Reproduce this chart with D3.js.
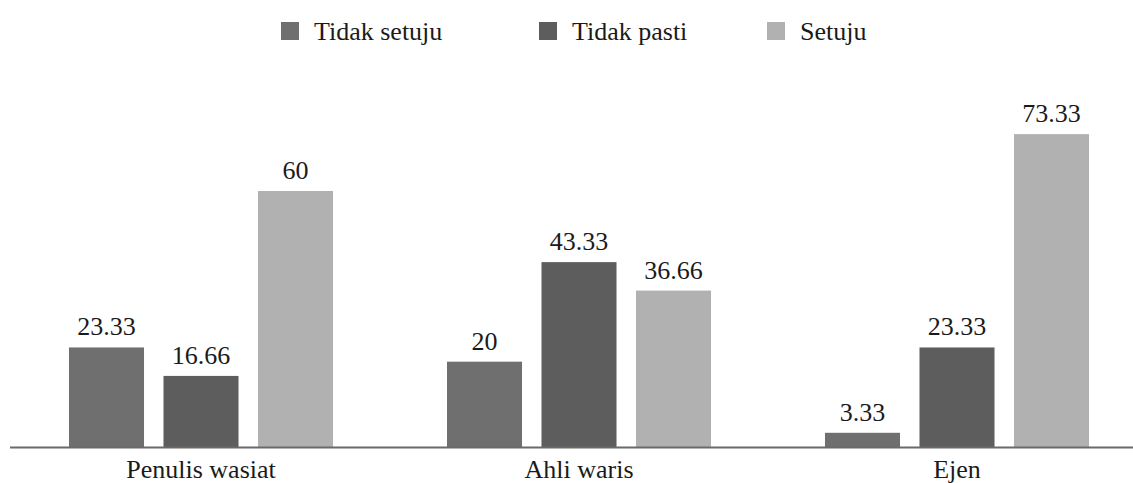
<!DOCTYPE html>
<html>
<head>
<meta charset="utf-8">
<script src="https://cdn.jsdelivr.net/npm/d3@7"></script>
<style>
  body { margin: 0; background: #fff; }
</style>
</head>
<body>
<div id="chart"></div>
<script>
var categories = ["Penulis wasiat", "Ahli waris", "Ejen"];
var seriesNames = ["Tidak setuju", "Tidak pasti", "Setuju"];
var tidakSetuju = [23.33, 20, 3.33];
var tidakPasti = [16.66, 43.33, 23.33];
var setuju = [60, 36.66, 73.33];
var colors = ["#6f6f6f", "#5d5d5d", "#b1b1b1"];

var seriesValues = [tidakSetuju, tidakPasti, setuju];

var W = 1133, H = 483;
var baseY = 447;
var serif = "Liberation Serif";

var svg = d3.select("#chart")
    .append("svg")
    .attr("width", W)
    .attr("height", H);

var x0 = d3.scaleBand()
    .domain(categories)
    .range([12, 1146])
    .padding(0);

var x1 = d3.scaleBand()
    .domain(seriesNames)
    .range([0, x0.bandwidth()])
    .paddingInner(0.206)
    .paddingOuter(0.603);

var y = d3.scaleLinear()
    .domain([0, 60])
    .range([baseY, 191]);

// rows of data for each category
var rows = categories.map(function (c, i) {
    return {
        cat: c,
        vals: seriesNames.map(function (s, j) {
            return {name: s, value: seriesValues[j][i], color: colors[j]};
        })
    };
});

var groups = svg.selectAll(".grp")
    .data(rows)
    .enter()
    .append("g")
    .attr("transform", function (d) { return "translate(" + x0(d.cat) + ",0)"; });

groups.selectAll("rect")
    .data(function (d) { return d.vals; })
    .enter()
    .append("rect")
    .attr("x", function (d) { return x1(d.name); })
    .attr("y", function (d) { return y(d.value); })
    .attr("width", x1.bandwidth())
    .attr("height", function (d) { return baseY - y(d.value); })
    .attr("fill", function (d) { return d.color; });

groups.selectAll(".lbl")
    .data(function (d) { return d.vals; })
    .enter()
    .append("text")
    .attr("class", "lbl")
    .attr("x", function (d) { return x1(d.name) + x1.bandwidth() / 2; })
    .attr("y", function (d) { return y(d.value) - 12; })
    .attr("text-anchor", "middle")
    .attr("font-size", 26)
    .attr("fill", "#1a1a1a")
    .style("font-family", serif)
    .text(function (d) { return d.value; });

// baseline axis
var xAxis = svg.append("g")
    .attr("transform", "translate(0," + baseY + ")")
    .call(d3.axisBottom(x0).tickSize(0));
xAxis.attr("font-family", null).attr("font-size", null);
xAxis.select(".domain")
    .attr("d", "M10,0.5H1133")
    .attr("stroke", "#6a6a6a")
    .attr("stroke-width", 2);
xAxis.selectAll(".tick text")
    .attr("y", 31)
    .attr("dy", 0)
    .attr("font-size", 26)
    .attr("fill", "#1a1a1a")
    .style("font-family", serif);

// legend
var legendX = [314, 572, 800];
var legend = svg.selectAll(".leg")
    .data(seriesNames)
    .enter()
    .append("g")
    .attr("transform", function (d, i) { return "translate(" + legendX[i] + ",0)"; });
legend.append("rect")
    .attr("x", -33)
    .attr("y", 22)
    .attr("width", 18)
    .attr("height", 18)
    .attr("fill", function (d, i) { return colors[i]; });
legend.append("text")
    .attr("x", 0)
    .attr("y", 40)
    .attr("font-size", 26)
    .attr("fill", "#1a1a1a")
    .style("font-family", serif)
    .text(function (d) { return d; });
</script>
</body>
</html>
